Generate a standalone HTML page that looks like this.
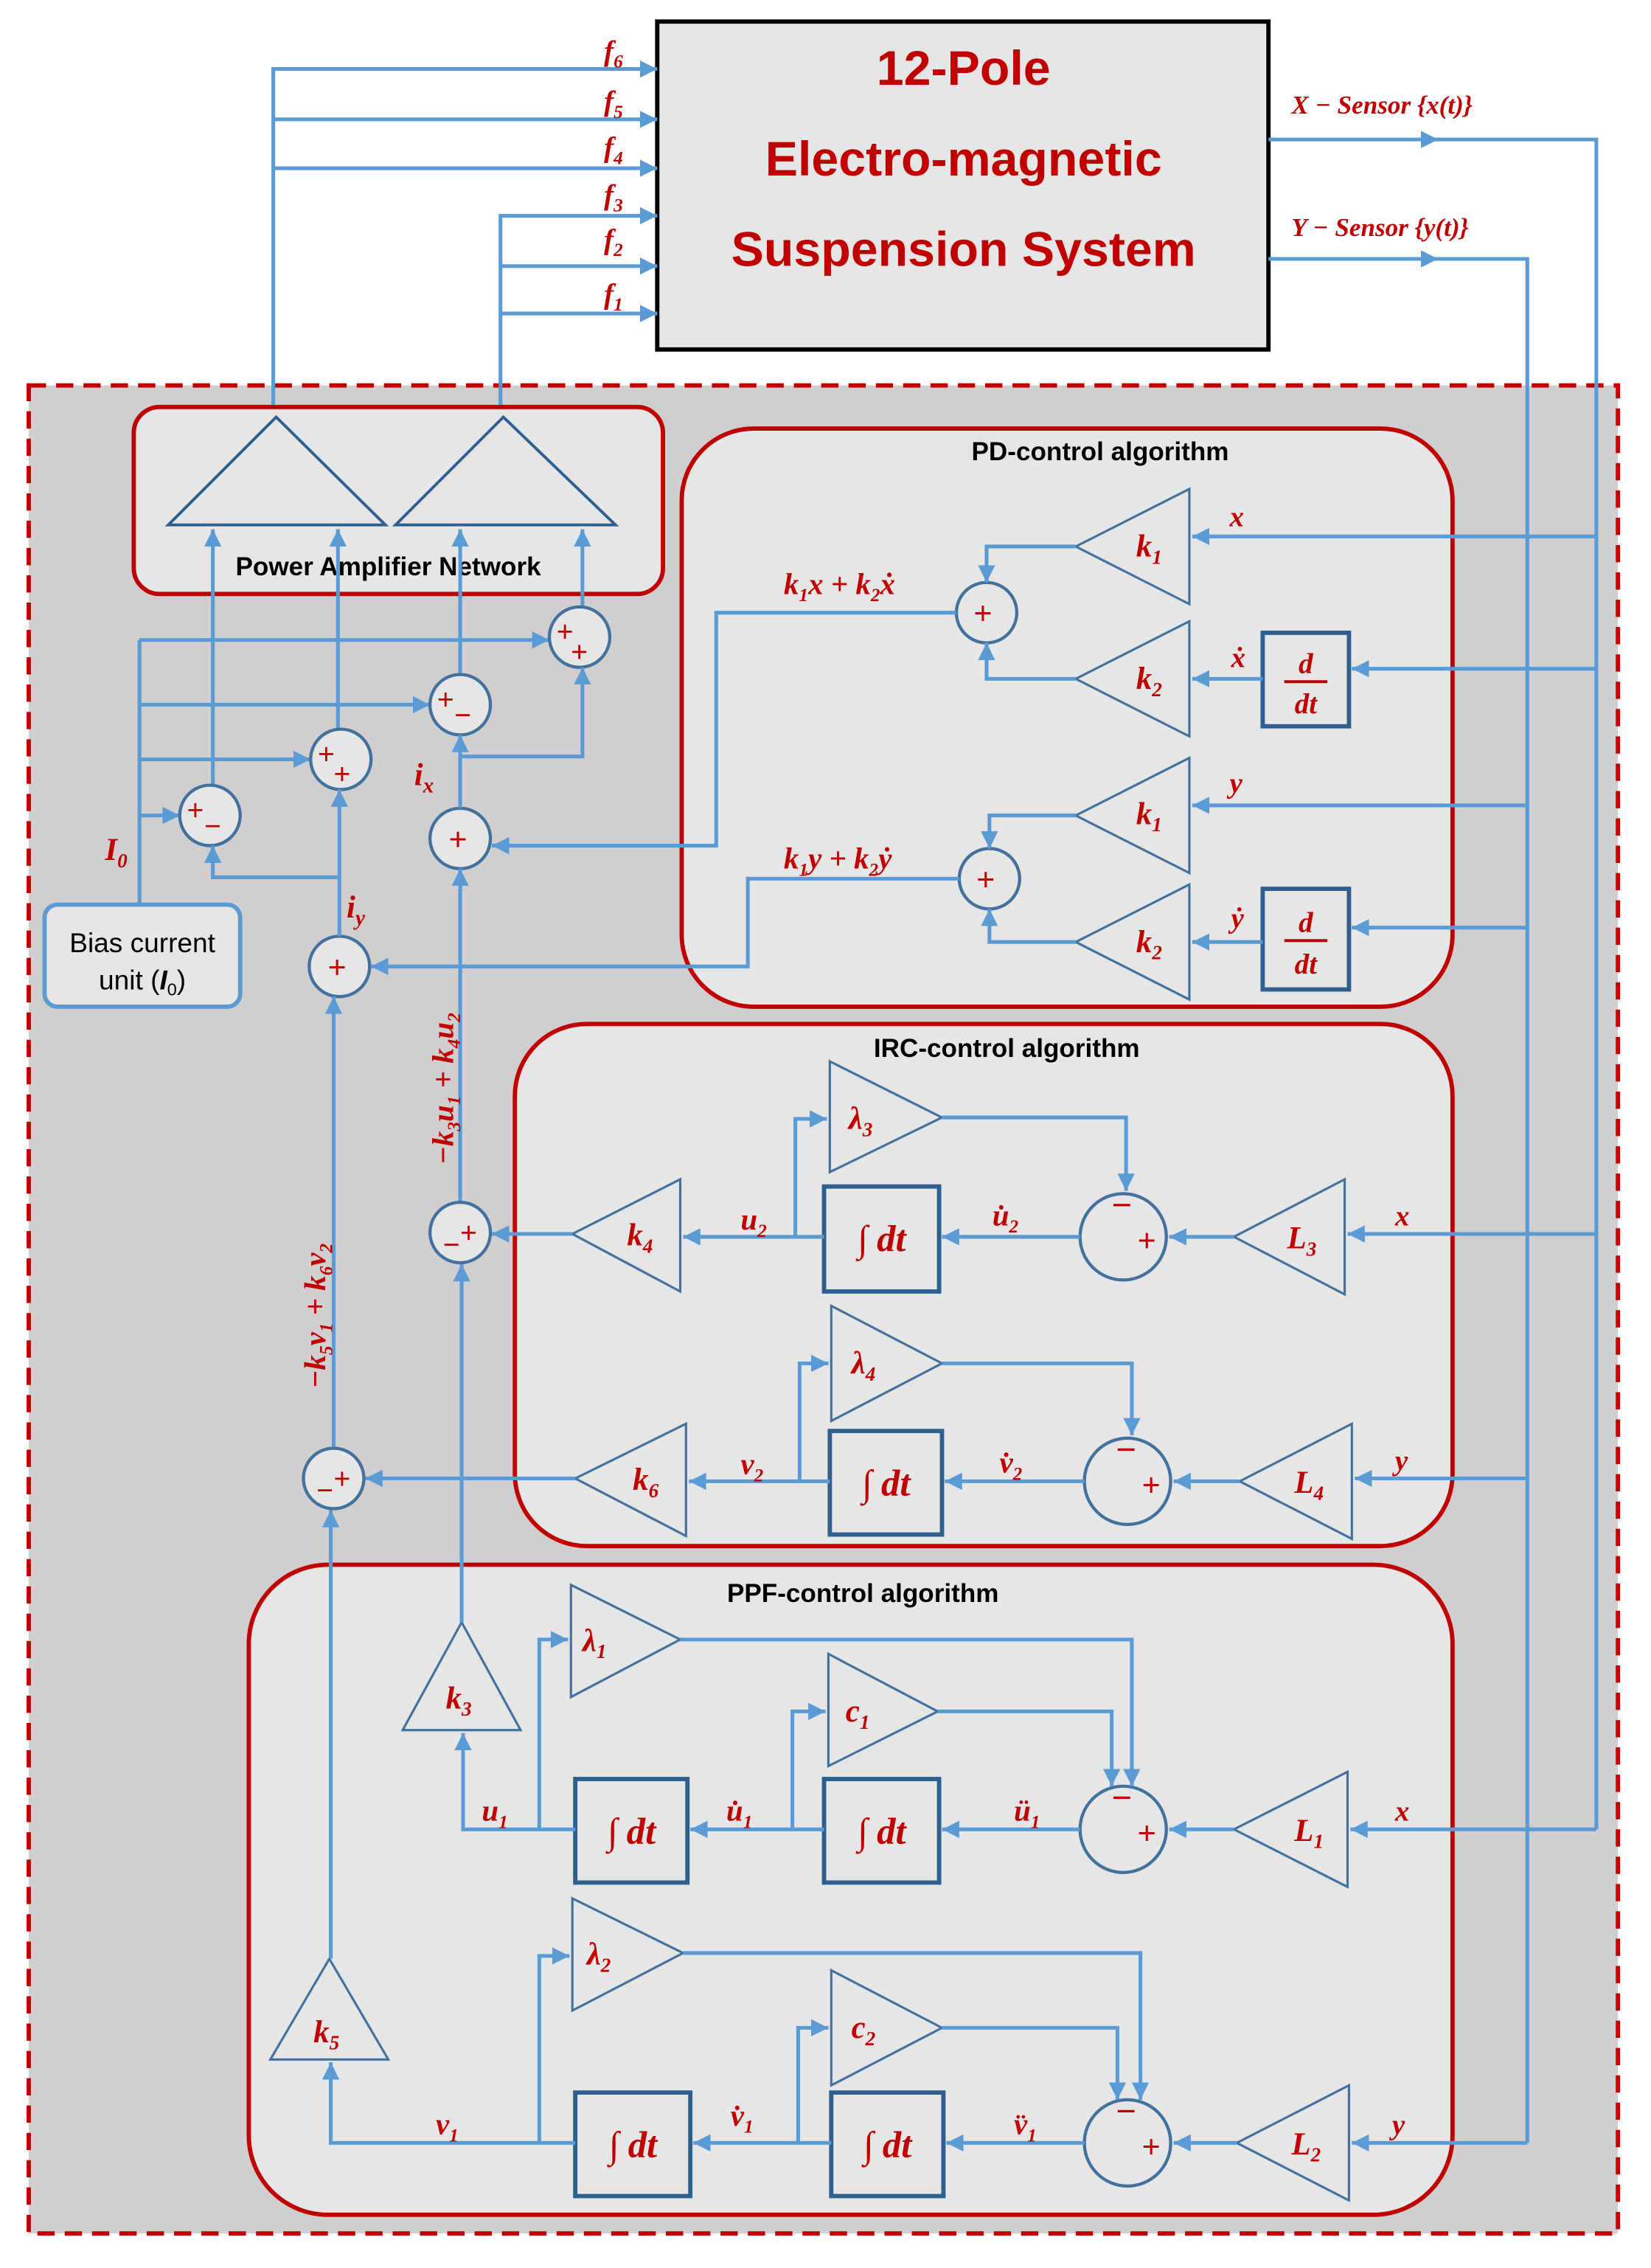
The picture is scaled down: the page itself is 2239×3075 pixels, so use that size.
<!DOCTYPE html>
<html><head><meta charset="utf-8"><style>
html,body{margin:0;padding:0;background:#fff}
svg{display:block}
.l{stroke:#5b9bd5;stroke-width:2.6;fill:none}
.la{stroke:#5b9bd5;stroke-width:2.6;fill:none;marker-end:url(#ah)}
.tri{stroke:#41719c;stroke-width:1.6;fill:#e7e6e6}
.ci{stroke:#41719c;stroke-width:2.2;fill:#e7e6e6}
.bx{stroke:#2e5f8e;stroke-width:3;fill:#e7e6e6}
.m{font-family:"Liberation Serif",serif;font-style:italic;font-weight:bold;fill:#c00000}
.s{font-family:"Liberation Sans",sans-serif;fill:#c00000}
.t{font-family:"Liberation Sans",sans-serif;font-weight:bold;fill:#000;font-size:18px}
.rb{stroke:#c00000;stroke-width:3;fill:#e7e6e6}
</style></head><body>
<svg width="2239" height="3075" viewBox="0 0 1148 1577" preserveAspectRatio="none" xmlns="http://www.w3.org/2000/svg">
<defs><marker id="ah" markerUnits="userSpaceOnUse" markerWidth="14" markerHeight="12" refX="12" refY="6" orient="auto"><path d="M0,0 L12,6 L0,12 z" fill="#5b9bd5"/></marker></defs>

<rect x="20" y="268" width="1105" height="1285" fill="#d0cece" stroke="#c00000" stroke-width="3" stroke-dasharray="12,7"/>

<rect x="457" y="15" width="425" height="228" fill="#e7e6e6" stroke="#000" stroke-width="3"/>
<text x="670" y="59" text-anchor="middle" font-family="Liberation Sans,sans-serif" font-weight="bold" font-size="34" fill="#c00000">12-Pole</text>
<text x="670" y="122" text-anchor="middle" font-family="Liberation Sans,sans-serif" font-weight="bold" font-size="34" fill="#c00000">Electro-magnetic</text>
<text x="670" y="185" text-anchor="middle" font-family="Liberation Sans,sans-serif" font-weight="bold" font-size="34" fill="#c00000">Suspension System</text>

<path class="la" d="M190,290 V48 H457"/>
<path class="la" d="M190,83 H457"/>
<path class="la" d="M190,117 H457"/>
<path class="la" d="M348,290 V150 H457"/>
<path class="la" d="M348,185 H457"/>
<path class="la" d="M348,218 H457"/>
<text class="m" x="420" y="42" font-size="20">f<tspan font-size="13" dy="5">6</tspan></text>
<text class="m" x="420" y="77" font-size="20">f<tspan font-size="13" dy="5">5</tspan></text>
<text class="m" x="420" y="109" font-size="20">f<tspan font-size="13" dy="5">4</tspan></text>
<text class="m" x="420" y="142" font-size="20">f<tspan font-size="13" dy="5">3</tspan></text>
<text class="m" x="420" y="173" font-size="20">f<tspan font-size="13" dy="5">2</tspan></text>
<text class="m" x="420" y="211" font-size="20">f<tspan font-size="13" dy="5">1</tspan></text>

<path class="la" d="M882,97 H1000"/><path class="l" d="M990,97 H1110 V1272"/>
<path class="la" d="M882,180 H1000"/><path class="l" d="M990,180 H1062 V1490"/>
<text class="m" x="898" y="79" font-size="18">X − Sensor {x(t)}</text>
<text class="m" x="898" y="164" font-size="18">Y − Sensor {y(t)}</text>

<rect class="rb" x="93" y="283" width="368" height="130" rx="18"/>
<path d="M117,365 L192,290 L268,365 Z" style="fill:none;stroke:#2e5f8e;stroke-width:2"/>
<path d="M275,365 L350,290 L428,365 Z" style="fill:none;stroke:#2e5f8e;stroke-width:2"/>
<text class="t" x="270" y="400" text-anchor="middle">Power Amplifier Network</text>

<rect class="rb" x="474" y="298" width="536" height="402" rx="50"/>
<text class="t" x="765" y="320" text-anchor="middle">PD-control algorithm</text>
<rect class="rb" x="358" y="712" width="652" height="363" rx="50"/>
<text class="t" x="700" y="735" text-anchor="middle">IRC-control algorithm</text>
<rect class="rb" x="173" y="1088" width="837" height="452" rx="55"/>
<text class="t" x="600" y="1114" text-anchor="middle">PPF-control algorithm</text>

<rect x="31" y="629" width="136" height="71" rx="9" fill="#e7e6e6" stroke="#5b9bd5" stroke-width="3"/>
<text x="99" y="662" text-anchor="middle" font-family="Liberation Sans,sans-serif" font-size="19" fill="#000">Bias current</text>
<text x="99" y="688" text-anchor="middle" font-family="Liberation Sans,sans-serif" font-size="19" fill="#000">unit (<tspan font-style="italic" font-weight="bold">I</tspan><tspan font-size="12" dy="4">0</tspan><tspan dy="-4">)</tspan></text>
<text class="m" x="73" y="598" font-size="22">I<tspan font-size="14" dy="5">0</tspan></text>

<path class="l" d="M97,629 V445"/>
<path class="la" d="M97,445 H382"/>
<path class="la" d="M97,490 H299"/>
<path class="la" d="M97,528 H216"/>
<path class="la" d="M97,567 H125"/>

<path class="la" d="M148,546 V368"/>
<path class="la" d="M235,507 V368"/>
<path class="la" d="M320,469 V368"/>
<path class="la" d="M405,422 V368"/>

<circle class="ci" cx="403" cy="443" r="21"/>
<circle class="ci" cx="320" cy="490" r="21"/>
<circle class="ci" cx="237" cy="528" r="21"/>
<circle class="ci" cx="146" cy="567" r="21"/>
<circle class="ci" cx="320" cy="583" r="21"/>
<circle class="ci" cx="236" cy="672" r="21"/>
<text class="s" x="387" y="446" font-size="20">+</text><text class="s" x="397" y="460" font-size="20">+</text>
<text class="s" x="304" y="493" font-size="20">+</text><text class="s" x="316" y="504" font-size="20">−</text>
<text class="s" x="221" y="531" font-size="20">+</text><text class="s" x="232" y="545" font-size="20">+</text>
<text class="s" x="130" y="570" font-size="20">+</text><text class="s" x="142" y="581" font-size="20">−</text>
<text class="s" x="312" y="591" font-size="22">+</text>
<text class="s" x="228" y="680" font-size="22">+</text>

<path class="la" d="M320,562 V511"/>
<path class="la" d="M320,526 H405 V464"/>
<path class="la" d="M236,651 V549"/>
<path class="la" d="M236,610 H148 V588"/>
<path class="la" d="M320,836 V604"/>
<path class="la" d="M232,1007 V693"/>
<text class="m" x="288" y="546" font-size="22">i<tspan font-size="15" dy="5">x</tspan></text>
<text class="m" x="241" y="638" font-size="22">i<tspan font-size="15" dy="5">y</tspan></text>

<path class="la" d="M1110,373 H829"/>
<text class="m" x="855" y="366" font-size="20">x</text>
<path class="tri" d="M748,380 L827,340 L827,420 Z"/>
<text class="m" x="790" y="387" font-size="22">k<tspan font-size="14" dy="5">1</tspan></text>
<path class="la" d="M1110,465 H940"/>
<rect class="bx" x="878" y="440" width="60" height="65"/>
<text class="m" x="908" y="468" font-size="20" text-anchor="middle">d</text>
<path d="M893,474 H923" stroke="#c00000" stroke-width="2"/>
<text class="m" x="908" y="496" font-size="20" text-anchor="middle">dt</text>
<path class="la" d="M878,472 H829"/>
<text class="m" x="856" y="464" font-size="20">ẋ</text>
<path class="tri" d="M748,472 L827,432 L827,512 Z"/>
<text class="m" x="790" y="479" font-size="22">k<tspan font-size="14" dy="5">2</tspan></text>
<circle class="ci" cx="686" cy="426" r="21"/>
<text class="s" x="677" y="434" font-size="22">+</text>
<path class="la" d="M748,380 H686 V405"/>
<path class="la" d="M748,472 H686 V447"/>
<path class="la" d="M665,426 H498 V588 H342"/>
<text class="m" x="545" y="413" font-size="21">k<tspan font-size="13" dy="5">1</tspan><tspan dy="-5">x + k</tspan><tspan font-size="13" dy="5">2</tspan><tspan dy="-5">ẋ</tspan></text>

<path class="la" d="M1062,560 H829"/>
<text class="m" x="855" y="551" font-size="20">y</text>
<path class="tri" d="M748,567 L827,527 L827,607 Z"/>
<text class="m" x="790" y="573" font-size="22">k<tspan font-size="14" dy="5">1</tspan></text>
<path class="la" d="M1062,645 H940"/>
<rect class="bx" x="878" y="618" width="60" height="70"/>
<text class="m" x="908" y="648" font-size="20" text-anchor="middle">d</text>
<path d="M893,654 H923" stroke="#c00000" stroke-width="2"/>
<text class="m" x="908" y="677" font-size="20" text-anchor="middle">dt</text>
<path class="la" d="M878,655 H829"/>
<text class="m" x="856" y="645" font-size="20">ẏ</text>
<path class="tri" d="M748,655 L827,615 L827,695 Z"/>
<text class="m" x="790" y="662" font-size="22">k<tspan font-size="14" dy="5">2</tspan></text>
<circle class="ci" cx="688" cy="611" r="21"/>
<text class="s" x="679" y="619" font-size="22">+</text>
<path class="la" d="M748,567 H688 V590"/>
<path class="la" d="M748,655 H688 V632"/>
<path class="la" d="M667,611 H520 V672 H258"/>
<text class="m" x="545" y="604" font-size="21">k<tspan font-size="13" dy="5">1</tspan><tspan dy="-5">y + k</tspan><tspan font-size="13" dy="5">2</tspan><tspan dy="-5">ẏ</tspan></text>

<path class="la" d="M1110,858 H937"/>
<text class="m" x="970" y="852" font-size="20">x</text>
<path class="tri" d="M858,860 L935,820 L935,900 Z"/>
<text class="m" x="895" y="868" font-size="22">L<tspan font-size="14" dy="5">3</tspan></text>
<circle class="ci" cx="781" cy="860" r="30"/>
<text class="s" x="773" y="846" font-size="24">−</text><text class="s" x="791" y="870" font-size="22">+</text>
<path class="la" d="M858,860 H813"/>
<path class="la" d="M751,860 H655"/>
<text class="m" x="690" y="852" font-size="21">u̇<tspan font-size="13" dy="5">2</tspan></text>
<rect class="bx" x="573" y="825" width="80" height="73"/>
<text class="m" x="613" y="870" font-size="26" text-anchor="middle">∫ dt</text>
<path class="la" d="M573,860 H475"/>
<text class="m" x="515" y="855" font-size="21">u<tspan font-size="13" dy="5">2</tspan></text>
<path class="tri" d="M398,858 L473,820 L473,898 Z"/>
<text class="m" x="436" y="866" font-size="22">k<tspan font-size="14" dy="5">4</tspan></text>
<path class="la" d="M553,860 V778 H575"/>
<path class="tri" d="M577,738 L655,777 L577,815 Z"/>
<text class="m" x="590" y="785" font-size="22">λ<tspan font-size="14" dy="5">3</tspan></text>
<path class="la" d="M655,777 H783 V828"/>
<path class="la" d="M398,858 H342"/>
<circle class="ci" cx="320" cy="857" r="21"/>
<text class="s" x="320" y="864" font-size="20">+</text><text class="s" x="308" y="872" font-size="20">−</text>
<text class="m" font-size="21" transform="translate(315,757) rotate(-90)" text-anchor="middle">−k<tspan font-size="13" dy="5">3</tspan><tspan dy="-5">u</tspan><tspan font-size="13" dy="5">1</tspan><tspan dy="-5"> + k</tspan><tspan font-size="13" dy="5">4</tspan><tspan dy="-5">u</tspan><tspan font-size="13" dy="5">2</tspan></text>

<path class="la" d="M1062,1028 H942"/>
<text class="m" x="970" y="1022" font-size="20">y</text>
<path class="tri" d="M862,1030 L940,990 L940,1070 Z"/>
<text class="m" x="900" y="1038" font-size="22">L<tspan font-size="14" dy="5">4</tspan></text>
<circle class="ci" cx="784" cy="1030" r="30"/>
<text class="s" x="776" y="1016" font-size="24">−</text><text class="s" x="794" y="1040" font-size="22">+</text>
<path class="la" d="M862,1030 H816"/>
<path class="la" d="M754,1030 H657"/>
<text class="m" x="695" y="1024" font-size="21">v̇<tspan font-size="13" dy="5">2</tspan></text>
<rect class="bx" x="577" y="995" width="78" height="72"/>
<text class="m" x="616" y="1040" font-size="26" text-anchor="middle">∫ dt</text>
<path class="la" d="M577,1030 H479"/>
<text class="m" x="515" y="1025" font-size="21">v<tspan font-size="13" dy="5">2</tspan></text>
<path class="tri" d="M400,1028 L477,990 L477,1068 Z"/>
<text class="m" x="440" y="1036" font-size="22">k<tspan font-size="14" dy="5">6</tspan></text>
<path class="la" d="M556,1030 V948 H576"/>
<path class="tri" d="M578,908 L655,948 L578,988 Z"/>
<text class="m" x="592" y="955" font-size="22">λ<tspan font-size="14" dy="5">4</tspan></text>
<path class="la" d="M655,948 H787 V998"/>
<path class="la" d="M400,1028 H254"/>
<circle class="ci" cx="232" cy="1028" r="21"/>
<text class="s" x="232" y="1035" font-size="20">+</text><text class="s" x="220" y="1043" font-size="20">−</text>
<text class="m" font-size="21" transform="translate(226,915) rotate(-90)" text-anchor="middle">−k<tspan font-size="13" dy="5">5</tspan><tspan dy="-5">v</tspan><tspan font-size="13" dy="5">1</tspan><tspan dy="-5"> + k</tspan><tspan font-size="13" dy="5">6</tspan><tspan dy="-5">v</tspan><tspan font-size="13" dy="5">2</tspan></text>

<path class="la" d="M1110,1272 H939"/>
<text class="m" x="970" y="1266" font-size="20">x</text>
<path class="tri" d="M858,1272 L937,1232 L937,1312 Z"/>
<text class="m" x="900" y="1280" font-size="22">L<tspan font-size="14" dy="5">1</tspan></text>
<circle class="ci" cx="781" cy="1272" r="30"/>
<text class="s" x="773" y="1258" font-size="24">−</text><text class="s" x="791" y="1282" font-size="22">+</text>
<path class="la" d="M858,1272 H813"/>
<path class="la" d="M751,1272 H655"/>
<text class="m" x="705" y="1266" font-size="21">ü<tspan font-size="13" dy="5">1</tspan></text>
<rect class="bx" x="573" y="1237" width="80" height="72"/>
<text class="m" x="613" y="1282" font-size="26" text-anchor="middle">∫ dt</text>
<path class="la" d="M573,1272 H480"/>
<text class="m" x="505" y="1266" font-size="21">u̇<tspan font-size="13" dy="5">1</tspan></text>
<rect class="bx" x="400" y="1237" width="78" height="72"/>
<text class="m" x="439" y="1282" font-size="26" text-anchor="middle">∫ dt</text>
<path class="la" d="M400,1272 H322 V1205"/>
<text class="m" x="335" y="1266" font-size="21">u<tspan font-size="13" dy="5">1</tspan></text>
<path class="tri" d="M321,1128 L362,1203 L280,1203 Z"/>
<text class="m" x="310" y="1188" font-size="22">k<tspan font-size="14" dy="5">3</tspan></text>
<path class="la" d="M321,1128 V879"/>
<path class="la" d="M375,1272 V1140 H395"/>
<path class="tri" d="M397,1102 L473,1140 L397,1180 Z"/>
<text class="m" x="405" y="1148" font-size="22">λ<tspan font-size="14" dy="5">1</tspan></text>
<path class="la" d="M473,1140 H787 V1242"/>
<path class="la" d="M551,1272 V1190 H574"/>
<path class="tri" d="M576,1150 L652,1190 L576,1228 Z"/>
<text class="m" x="588" y="1197" font-size="22">c<tspan font-size="14" dy="5">1</tspan></text>
<path class="la" d="M652,1190 H773 V1242"/>

<path class="la" d="M1062,1490 H940"/>
<text class="m" x="968" y="1484" font-size="20">y</text>
<path class="tri" d="M860,1490 L938,1450 L938,1530 Z"/>
<text class="m" x="898" y="1498" font-size="22">L<tspan font-size="14" dy="5">2</tspan></text>
<circle class="ci" cx="784" cy="1490" r="30"/>
<text class="s" x="776" y="1476" font-size="24">−</text><text class="s" x="794" y="1500" font-size="22">+</text>
<path class="la" d="M860,1490 H816"/>
<path class="la" d="M754,1490 H658"/>
<text class="m" x="705" y="1484" font-size="21">v̈<tspan font-size="13" dy="5">1</tspan></text>
<rect class="bx" x="578" y="1455" width="78" height="72"/>
<text class="m" x="617" y="1500" font-size="26" text-anchor="middle">∫ dt</text>
<path class="la" d="M578,1490 H482"/>
<text class="m" x="508" y="1478" font-size="21">v̇<tspan font-size="13" dy="5">1</tspan></text>
<rect class="bx" x="400" y="1455" width="80" height="72"/>
<text class="m" x="440" y="1500" font-size="26" text-anchor="middle">∫ dt</text>
<path class="la" d="M400,1490 H230 V1434"/>
<text class="m" x="303" y="1484" font-size="21">v<tspan font-size="13" dy="5">1</tspan></text>
<path class="tri" d="M229,1362 L270,1432 L188,1432 Z"/>
<text class="m" x="218" y="1420" font-size="22">k<tspan font-size="14" dy="5">5</tspan></text>
<path class="la" d="M230,1362 V1050"/>
<path class="la" d="M375,1490 V1360 H396"/>
<path class="tri" d="M398,1320 L475,1358 L398,1398 Z"/>
<text class="m" x="408" y="1366" font-size="22">λ<tspan font-size="14" dy="5">2</tspan></text>
<path class="la" d="M475,1358 H793 V1460"/>
<path class="la" d="M555,1490 V1410 H576"/>
<path class="tri" d="M578,1370 L655,1410 L578,1450 Z"/>
<text class="m" x="592" y="1417" font-size="22">c<tspan font-size="14" dy="5">2</tspan></text>
<path class="la" d="M655,1410 H777 V1460"/>
</svg>
</body></html>
